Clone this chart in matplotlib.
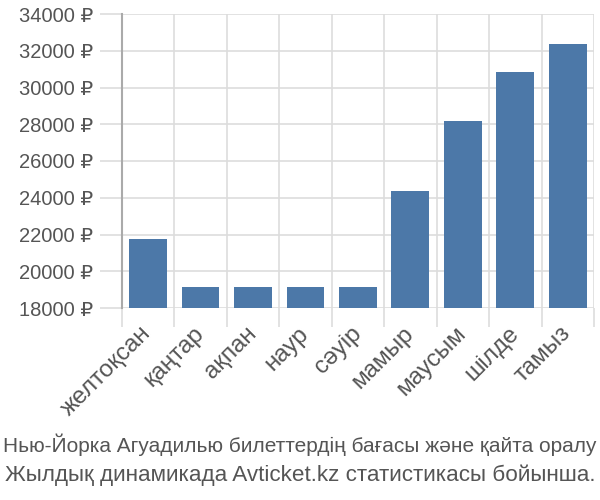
import matplotlib
matplotlib.use("Agg")
import matplotlib.pyplot as plt
import numpy as np

categories = ["желтоқсан", "қаңтар", "ақпан", "наур", "сәуір", "мамыр", "маусым", "шілде", "тамыз"]
values = [21750, 19130, 19130, 19130, 19130, 24380, 28200, 30850, 32390]
yticks = [18000, 20000, 22000, 24000, 26000, 28000, 30000, 32000, 34000]
ytick_labels = [f"{v} ₽" for v in yticks]
caption = ["Нью-Йорка Агуадилью билеттердің бағасы және қайта оралу",
           "Жылдық динамикада Avticket.kz статистикасы бойынша."]

plt.rcParams['font.family'] = ['Liberation Sans', 'DejaVu Sans']
fig = plt.figure(figsize=(6, 5), dpi=100)
ax = fig.add_axes([0.203, 0.384, 0.787, 0.588])

x = np.arange(len(categories))
ax.bar(x, [v - 18000 for v in values], bottom=18000, width=0.72, color='#4c78a8', zorder=3)
ax.set_xlim(-0.5, len(categories) - 0.5)
ax.set_ylim(18000, 34000)

ax.set_yticks(yticks)
ax.set_yticklabels(ytick_labels, fontsize=14.5, color='#555555')
ax.set_xticks(x)
ax.set_xticklabels(categories, rotation=45, ha='right', va='center', rotation_mode='anchor',
                   fontsize=17.5, color='#555555')
ax.tick_params(axis='x', which='major', length=0, pad=16)
ax.set_xticks(np.arange(-0.5, len(categories)), minor=True)
ax.tick_params(axis='x', which='minor', length=14, color='#dddddd', width=1.2)
ax.tick_params(axis='y', length=15.5, color='#dddddd', width=1.2, pad=5)
ax.grid(True, axis='y', color='#dddddd', linewidth=1.2, zorder=0)
ax.grid(True, axis='x', which='minor', color='#dddddd', linewidth=1.2, zorder=0)

for s in ['top', 'right', 'bottom']:
    ax.spines[s].set_visible(False)
ax.spines['left'].set_color('#aaaaaa')
ax.spines['left'].set_linewidth(1.5)
ax.spines['left'].set_zorder(4)

fig.text(0.5, 1 - 445/500, caption[0], ha='center', va='center', fontsize=15, color='#555555')
fig.text(0.5, 1 - 475/500, caption[1], ha='center', va='center', fontsize=16.2, color='#555555')

fig.savefig('out.png', dpi=100)
